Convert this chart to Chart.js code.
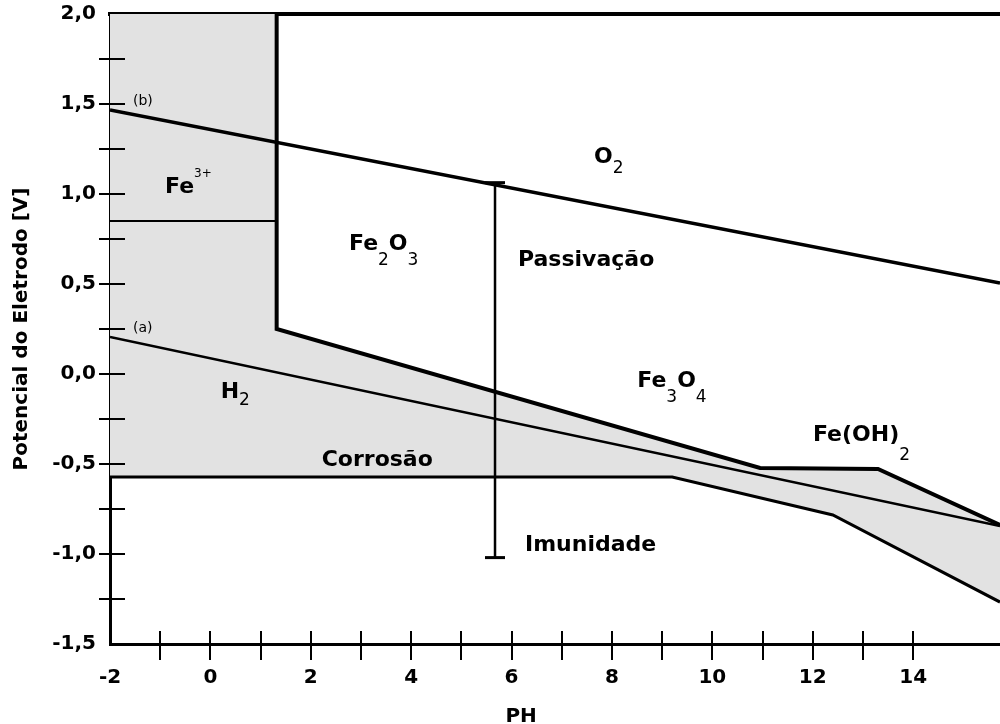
<!DOCTYPE html>
<html>
<head>
<meta charset="utf-8">
<script src="https://cdn.jsdelivr.net/npm/chart.js@4.4.1/dist/chart.umd.min.js"></script>
<style>
  html, body { margin: 0; padding: 0; background: #fff; }
  #wrap { width: 1000px; height: 724px; }
</style>
</head>
<body>
<div id="wrap"><canvas id="pourbaix"></canvas></div>
<script>
// visible range (the picture is cut off on the right)
const phMin = -2;
const phMax = 15.73;
const eMin = -1.5;
const eMax = 2.0;

// boundaries: pH and potential [V]
const corrTopPH = [1.32, 1.32, 10.95, 13.30, 15.73];
const corrTopE = [2.0, 0.25, -0.522, -0.528, -0.839];
const immTopPH = [-2, 9.20, 12.40, 15.73];
const immTopE = [-0.572, -0.572, -0.783, -1.267];
const lineA_PH = [-2, 15.73];
const lineA_E = [0.206, -0.844];
const lineB_PH = [-2, 15.73];
const lineB_E = [1.467, 0.506];
const fe3PH = [-2, 1.32];
const fe3E = [0.85, 0.85];
const passPH = [5.67, 5.67];
const passE = [1.063, -1.02];

const FONT = "'DejaVu Sans', sans-serif";

function pts(xs, ys) {
  return xs.map((v, i) => ({ x: v, y: ys[i] }));
}

// grey area = corrosion zone, closed polygon
const shade = [{ x: phMin, y: eMax }]
  .concat(pts(corrTopPH, corrTopE))
  .concat(pts(immTopPH, immTopE).reverse());

// region names, anchored at (pH, E) of the text baseline start
const regionLabels = [
  { at: [-1.542, 1.494], parts: [['(b)', 'small']] },
  { at: [-1.542, 0.233], parts: [['(a)', 'small']] },
  { at: [-0.904, 1.007], parts: [['Fe', 'main'], ['3+', 'sup']] },
  { at: [7.641, 1.174], drop: 10, parts: [['O', 'main'], ['2', 'sub']] },
  { at: [2.761, 0.689], drop: 15, parts: [['Fe', 'main'], ['2', 'sub'], ['O', 'main'], ['3', 'sub']] },
  { at: [6.127, 0.600], parts: [['Passivação', 'main']] },
  { at: [0.205, -0.133], drop: 7, parts: [['H', 'main'], ['2', 'sub']] },
  { at: [2.217, -0.511], parts: [['Corrosão', 'main']] },
  { at: [8.504, -0.071], drop: 15, parts: [['Fe', 'main'], ['3', 'sub'], ['O', 'main'], ['4', 'sub']] },
  { at: [12.004, -0.372], drop: 19, parts: [['Fe(OH)', 'main'], ['2', 'sub']] },
  { at: [6.267, -0.983], parts: [['Imunidade', 'main']] }
];

const fonts = {
  main: "bold 22px " + FONT,
  sub: "17px " + FONT,
  sup: "12px " + FONT,
  small: "14px " + FONT
};

const extras = {
  id: 'extras',
  afterDatasetsDraw(chart) {
    const { ctx, scales: { x, y } } = chart;
    ctx.save();
    ctx.fillStyle = '#000';
    ctx.textBaseline = 'alphabetic';
    ctx.textAlign = 'left';
    regionLabels.forEach(lb => {
      let px = x.getPixelForValue(lb.at[0]);
      const py = y.getPixelForValue(lb.at[1]);
      lb.parts.forEach(([t, kind]) => {
        ctx.font = fonts[kind];
        let dy = 0;
        if (kind === 'sub') dy = lb.drop;
        if (kind === 'sup') dy = -16;
        ctx.fillText(t, px, py + dy);
        px += ctx.measureText(t).width;
      });
    });
    ctx.restore();
  },
  afterDraw(chart) {
    const { ctx, scales: { x, y } } = chart;
    ctx.save();
    ctx.strokeStyle = '#000';
    ctx.lineWidth = 2;
    ctx.beginPath();
    // tick marks crossing the axes
    y.ticks.forEach(t => {
      if (t.value <= eMin || t.value >= eMax) return;
      const py = Math.round(y.getPixelForValue(t.value));
      ctx.moveTo(x.left - 11, py);
      ctx.lineTo(x.left + 15, py);
    });
    x.ticks.forEach(t => {
      if (t.value <= phMin || t.value > 14) return;
      const px = Math.round(x.getPixelForValue(t.value));
      ctx.moveTo(px, y.bottom - 13);
      ctx.lineTo(px, y.bottom + 16);
    });
    ctx.stroke();
    // x axis title
    ctx.fillStyle = '#000';
    ctx.font = "bold 20px " + FONT;
    ctx.textAlign = 'center';
    ctx.textBaseline = 'alphabetic';
    ctx.fillText('PH', x.getPixelForValue(6.19), chart.height - 2);
    ctx.restore();
  }
};

const lineBase = {
  showLine: true,
  fill: false,
  pointRadius: 0,
  borderColor: '#000',
  borderJoinStyle: 'miter',
  tension: 0
};

new Chart(document.getElementById('pourbaix'), {
  type: 'scatter',
  data: {
    datasets: [
      Object.assign({}, lineBase, { label: 'Fe3+/Fe2+', data: pts(fe3PH, fe3E), borderWidth: 2 }),
      Object.assign({}, lineBase, {
        label: 'faixa', data: pts(passPH, passE), borderWidth: 2.5,
        pointStyle: 'line', pointRadius: 10, pointBorderWidth: 3, pointBorderColor: '#000'
      }),
      Object.assign({}, lineBase, { label: '(b)', data: pts(lineB_PH, lineB_E), borderWidth: 3.5 }),
      Object.assign({}, lineBase, { label: '(a)', data: pts(lineA_PH, lineA_E), borderWidth: 2.5 }),
      Object.assign({}, lineBase, { label: 'limite superior', data: pts(corrTopPH, corrTopE), borderWidth: 4 }),
      Object.assign({}, lineBase, { label: 'limite inferior', data: pts(immTopPH, immTopE), borderWidth: 3 }),
      Object.assign({}, lineBase, {
        label: 'Corrosão', data: shade, borderWidth: 1, borderColor: 'rgba(0,0,0,0)',
        backgroundColor: '#e2e2e2', fill: 'shape'
      })
    ]
  },
  options: {
    responsive: true,
    maintainAspectRatio: false,
    animation: false,
    devicePixelRatio: 1,
    layout: { padding: 0, autoPadding: false },
    plugins: {
      legend: { display: false },
      tooltip: { enabled: false }
    },
    scales: {
      x: {
        type: 'linear',
        position: 'bottom',
        min: phMin,
        max: phMax,
        afterFit: s => { s.height = 80; s.paddingLeft = 0; s.paddingRight = 0; },
        grid: { display: false, drawTicks: false },
        border: { display: true, width: 3, color: '#000' },
        ticks: {
          stepSize: 1,
          autoSkip: false,
          maxRotation: 0,
          padding: 22,
          color: '#000',
          font: { family: FONT, size: 20, weight: 'bold' },
          callback: v => (Number.isInteger(v) && v % 2 === 0 && v <= 14 ? String(v) : '')
        }
      },
      xTop: {
        type: 'linear',
        axis: 'x',
        position: 'top',
        min: phMin,
        max: phMax,
        afterFit: s => { s.height = 14; s.paddingLeft = 0; s.paddingRight = 0; },
        grid: { display: false, drawTicks: false },
        border: { display: true, width: 4, color: '#000' },
        ticks: { display: false }
      },
      y: {
        type: 'linear',
        min: eMin,
        max: eMax,
        afterFit: s => { s.width = 110; s.paddingTop = 0; s.paddingBottom = 0; },
        grid: { display: false, drawTicks: false },
        border: { display: true, width: 3, color: '#000' },
        ticks: {
          stepSize: 0.25,
          autoSkip: false,
          padding: 14,
          color: '#000',
          font: { family: FONT, size: 20, weight: 'bold' },
          callback: v => {
            const r = Math.round(v * 2);
            return Math.abs(v * 2 - r) < 1e-6 ? (r / 2).toFixed(1).replace('.', ',') : '';
          }
        },
        title: {
          display: true,
          text: 'Potencial do Eletrodo [V]',
          color: '#000',
          font: { family: FONT, size: 20, weight: 'bold' },
          padding: { top: 10, bottom: 0 }
        }
      }
    }
  },
  plugins: [extras]
});
</script>
</body>
</html>
